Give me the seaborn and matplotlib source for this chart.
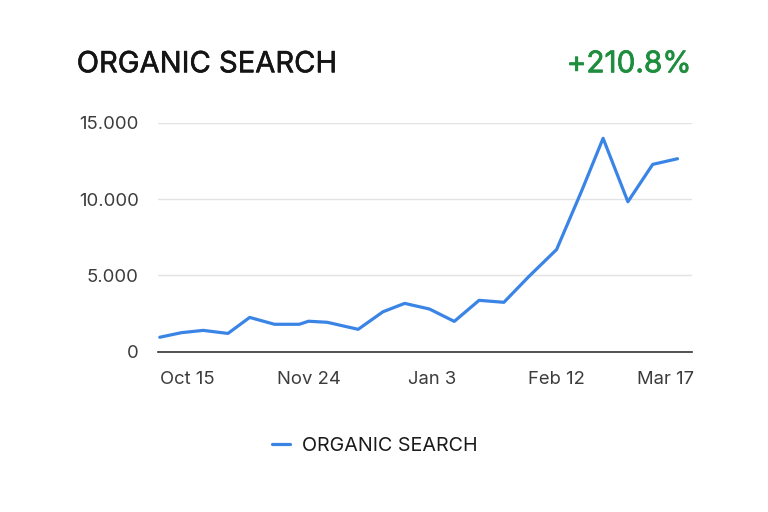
import matplotlib
matplotlib.use("Agg")
import matplotlib.pyplot as plt
import matplotlib.ticker as mticker
import matplotlib.patheffects as pe
import seaborn as sns
import pandas as pd

# ---- data ----
dates = ["2023-10-07", "2023-10-14", "2023-10-21", "2023-10-29", "2023-11-05",
         "2023-11-13", "2023-11-21", "2023-11-24", "2023-11-30", "2023-12-10",
         "2023-12-18", "2023-12-25", "2024-01-02", "2024-01-10", "2024-01-18",
         "2024-01-26", "2024-02-03", "2024-02-12", "2024-02-20", "2024-02-27",
         "2024-03-06", "2024-03-14", "2024-03-22"]
sessions = [950, 1250, 1400, 1200, 2250, 1800, 1800, 2000, 1930, 1470,
            2620, 3170, 2800, 1990, 3370, 3240, 4920, 6700, 10500, 13990,
            9830, 12280, 12650]
series_name = "ORGANIC SEARCH"
title = "ORGANIC SEARCH"
change_label = "+210.8%"
tick_dates = ["2023-10-16", "2023-11-24", "2024-01-03", "2024-02-12", "2024-03-18"]
tick_labels = ["Oct 15", "Nov 24", "Jan 3", "Feb 12", "Mar 17"]
y_ticks = [0, 5000, 10000, 15000]

df = pd.DataFrame({"date": pd.to_datetime(dates), "value": sessions, "series": series_name})

sns.set_theme(style="white")
plt.rcParams["font.family"] = ["Inter", "DejaVu Sans"]

fig = plt.figure(figsize=(7.68, 5.12), dpi=100)
ax = fig.add_axes([0.206, 0.313, 0.695, 0.447])

sns.lineplot(data=df, x="date", y="value", hue="series", palette=["#3a84e6"],
             linewidth=2.3, ax=ax, legend=True)

ax.set_xlim(pd.Timestamp("2023-10-06 12:00"), pd.Timestamp("2024-03-26 16:00"))
ax.set_ylim(0, 15000)
ax.set_yticks(y_ticks)
ax.yaxis.set_major_formatter(mticker.FuncFormatter(lambda v, p: f"{int(v):,}".replace(",", ".")))
ax.set_xticks(pd.to_datetime(tick_dates))
ax.set_xticklabels(tick_labels)
ax.set_xlabel("")
ax.set_ylabel("")

ax.grid(axis="y", color="#e3e3e3", linewidth=1.0)
ax.grid(axis="x", visible=False)
for s in ["top", "right", "left"]:
    ax.spines[s].set_visible(False)
ax.spines["bottom"].set_color("#333333")
ax.spines["bottom"].set_linewidth(1.2)
ax.tick_params(axis="both", length=0, labelsize=13.3, labelcolor="#3c3c3c")
ax.tick_params(axis="y", pad=14)
ax.tick_params(axis="x", pad=14)

fig.text(0.0999, 0.8588, title, fontsize=21.0, color="#141414", ha="left", va="baseline",
         path_effects=[pe.withStroke(linewidth=0.4, foreground="#141414")])
fig.text(0.9007, 0.8588, change_label, fontsize=21.4, color="#1e8e3e", ha="right", va="baseline",
         path_effects=[pe.withStroke(linewidth=0.55, foreground="#1e8e3e")])

leg = ax.legend(loc="center", bbox_to_anchor=(0.4883, 0.1289), bbox_transform=fig.transFigure,
                frameon=False, fontsize=14.2, handlelength=0.9, handletextpad=0.64)
for t in leg.get_texts():
    t.set_color("#1a1a1a")
for l in leg.get_lines():
    l.set_linewidth(2.3)

fig.savefig("out.png", dpi=100)
